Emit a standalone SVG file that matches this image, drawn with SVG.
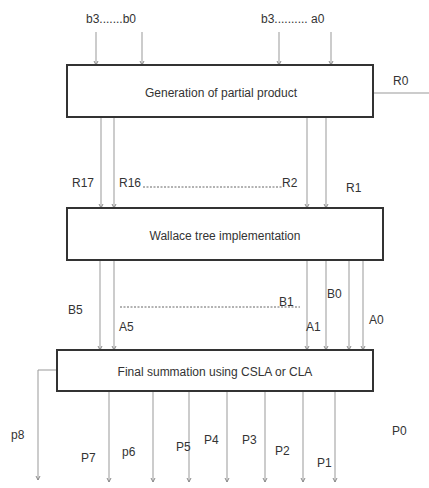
<svg xmlns="http://www.w3.org/2000/svg" width="429" height="488" viewBox="0 0 429 488">
<style>
.box{fill:#fff;stroke:#333;stroke-width:2}
.t{font-family:"Liberation Sans",Arial,sans-serif;font-size:12px;fill:#333}
.c{text-anchor:middle}
.w{stroke:#999;stroke-width:1;fill:none}
.a{marker-end:url(#ah)}
.d{stroke:#666;stroke-width:1;stroke-dasharray:2,1.5;fill:none}
</style>
<defs>
<marker id="ah" markerWidth="6" markerHeight="6" refX="4" refY="2.5" orient="auto" markerUnits="userSpaceOnUse">
<path d="M0,0.5 L4,2.5 L0,4.5" fill="none" stroke="#888" stroke-width="1"/>
</marker>
</defs>
<rect width="429" height="488" fill="#fff"/>
<g id="connectors">
<line class="w a" x1="96" y1="32" x2="96" y2="65"/>
<line class="w a" x1="142" y1="32" x2="142" y2="65"/>
<line class="w a" x1="279" y1="32" x2="279" y2="65"/>
<line class="w a" x1="331" y1="32" x2="331" y2="65"/>
<line class="w" x1="369" y1="93" x2="429" y2="93"/>
<line class="w a" x1="101" y1="117" x2="101" y2="208"/>
<line class="w a" x1="114" y1="117" x2="114" y2="208"/>
<line class="w a" x1="307" y1="117" x2="307" y2="208"/>
<line class="w a" x1="326" y1="117" x2="326" y2="208"/>
<line class="d" x1="143" y1="187" x2="283" y2="187"/>
<line class="w a" x1="100" y1="260" x2="100" y2="350"/>
<line class="w a" x1="114" y1="260" x2="114" y2="350"/>
<line class="w a" x1="307" y1="260" x2="307" y2="350"/>
<line class="w a" x1="326" y1="260" x2="326" y2="350"/>
<line class="w a" x1="349" y1="260" x2="349" y2="350"/>
<line class="w a" x1="363" y1="260" x2="363" y2="350"/>
<line class="d" x1="120" y1="307" x2="300" y2="307"/>
<polyline class="w a" points="57,370 38,370 38,480"/>
<line class="w a" x1="109" y1="391" x2="109" y2="482"/>
<line class="w a" x1="153" y1="391" x2="153" y2="482"/>
<line class="w a" x1="189" y1="391" x2="189" y2="482"/>
<line class="w a" x1="227" y1="391" x2="227" y2="482"/>
<line class="w a" x1="265" y1="391" x2="265" y2="482"/>
<line class="w a" x1="303" y1="391" x2="303" y2="482"/>
<line class="w a" x1="335" y1="391" x2="335" y2="482"/>
</g>
<g id="gen">
<rect class="box" x="67" y="65" width="306" height="52"/>
<text class="t c" x="221" y="97">Generation of partial product</text>
</g>
<g id="wallace">
<rect class="box" x="67" y="208" width="316" height="52"/>
<text class="t c" x="225" y="240">Wallace tree implementation</text>
</g>
<g id="final">
<rect class="box" x="57" y="350" width="316" height="41"/>
<text class="t c" x="215" y="376">Final summation using CSLA or CLA</text>
</g>
<g id="labels">
<text class="t" x="86" y="23">b3.......b0</text>
<text class="t" x="261" y="23">b3.......... a0</text>
<text class="t" x="393" y="85">R0</text>
<text class="t" x="72" y="187">R17</text>
<text class="t" x="119" y="187">R16</text>
<text class="t" x="282" y="187">R2</text>
<text class="t" x="346" y="192">R1</text>
<text class="t" x="68" y="314">B5</text>
<text class="t" x="279" y="306">B1</text>
<text class="t" x="119" y="331">A5</text>
<text class="t" x="306" y="331">A1</text>
<text class="t" x="327" y="298">B0</text>
<text class="t" x="369" y="324">A0</text>
<text class="t" x="11" y="439">p8</text>
<text class="t" x="81" y="462">P7</text>
<text class="t" x="122" y="456">p6</text>
<text class="t" x="176" y="451">P5</text>
<text class="t" x="204" y="444">P4</text>
<text class="t" x="242" y="444">P3</text>
<text class="t" x="275" y="455">P2</text>
<text class="t" x="317" y="467">P1</text>
<text class="t" x="392" y="435">P0</text>
</g>
</svg>
